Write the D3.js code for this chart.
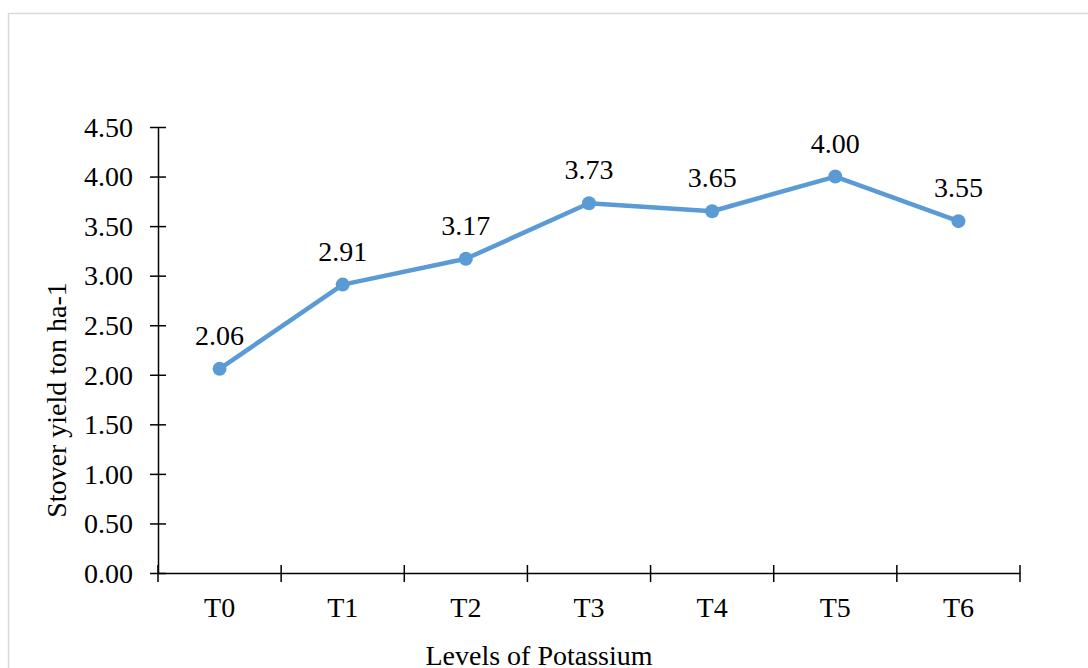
<!DOCTYPE html>
<html>
<head>
<meta charset="utf-8">
<script src="https://cdn.jsdelivr.net/npm/d3@7"></script>
<style>
  html, body { margin: 0; padding: 0; background: #fff; }
  svg { display: block; }
  text { font-family: "Liberation Serif", "Times New Roman", serif; fill: #000; }
</style>
</head>
<body>
<svg id="chart" width="1088" height="668"></svg>
<script>
// Stover yield by potassium level
const categories = ["T0", "T1", "T2", "T3", "T4", "T5", "T6"];
const yieldValues = [2.06, 2.91, 3.17, 3.73, 3.65, 4.00, 3.55];
const yTicks = [0, 0.5, 1, 1.5, 2, 2.5, 3, 3.5, 4, 4.5];

const W = 1088, H = 668;
const plot = { left: 158, right: 1020, top: 127, bottom: 573 };
const fontSize = 28;
const lineColor = "#5b9bd5";

const svg = d3.select("#chart");

// outer frame (only left and top edges fall inside the view)
svg.append("path")
  .attr("d", `M8.5,${H} V13.5 H${W}`)
  .attr("fill", "none")
  .attr("stroke", "#d9d9d9")
  .attr("stroke-width", 1.5);

const x = d3.scaleBand().domain(categories).range([plot.left, plot.right]).padding(0);
const y = d3.scaleLinear().domain([0, 4.5]).range([plot.bottom, plot.top]);

// y axis
const yAxis = svg.append("g").attr("transform", `translate(${plot.left},0)`)
  .call(d3.axisLeft(y).tickValues(yTicks).tickFormat(d3.format(".2f")).tickSize(0).tickPadding(25));
yAxis.select(".domain").attr("stroke", "#000").attr("stroke-width", 1.5);
yAxis.selectAll("text").attr("font-size", fontSize).attr("font-family", "Liberation Serif").attr("dy", "0.33em");
yAxis.selectAll(".tick").append("line")
  .attr("x1", -8).attr("x2", 8).attr("stroke", "#000").attr("stroke-width", 1.5);

// x axis
const xAxis = svg.append("g").attr("transform", `translate(0,${plot.bottom})`)
  .call(d3.axisBottom(x).tickSize(0).tickPadding(24));
xAxis.select(".domain").attr("stroke", "#000").attr("stroke-width", 1.5);
xAxis.selectAll("text").attr("font-size", fontSize).attr("font-family", "Liberation Serif");
const boundaries = categories.map(c => x(c)).concat([x(categories[categories.length - 1]) + x.bandwidth()]);
xAxis.selectAll(".bound").data(boundaries).enter().append("line")
  .attr("class", "bound")
  .attr("x1", d => d).attr("x2", d => d)
  .attr("y1", -8).attr("y2", 9)
  .attr("stroke", "#000").attr("stroke-width", 1.5);

// axis titles
svg.append("text")
  .attr("transform", `translate(66,400) rotate(-90)`)
  .attr("text-anchor", "middle")
  .attr("font-size", fontSize)
  .text("Stover yield ton ha-1");

svg.append("text")
  .attr("x", 539).attr("y", 665)
  .attr("text-anchor", "middle")
  .attr("font-size", fontSize)
  .text("Levels of Potassium");

// series
const pts = categories.map((c, i) => ({ c, v: yieldValues[i] }));
const cx = d => x(d.c) + x.bandwidth() / 2;

svg.append("path")
  .datum(pts)
  .attr("fill", "none")
  .attr("stroke", lineColor)
  .attr("stroke-width", 4.5)
  .attr("stroke-linejoin", "round")
  .attr("d", d3.line().x(cx).y(d => y(d.v)));

svg.selectAll(".pt").data(pts).enter().append("circle")
  .attr("class", "pt")
  .attr("cx", cx).attr("cy", d => y(d.v))
  .attr("r", 7)
  .attr("fill", lineColor);

svg.selectAll(".lbl").data(pts).enter().append("text")
  .attr("class", "lbl")
  .attr("x", cx).attr("y", d => y(d.v) - 24)
  .attr("text-anchor", "middle")
  .attr("font-size", fontSize)
  .text(d => d3.format(".2f")(d.v));
</script>
</body>
</html>
